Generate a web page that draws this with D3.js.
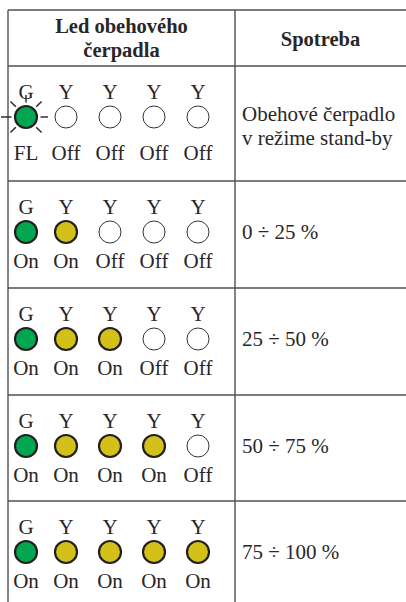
<!DOCTYPE html>
<html><head><meta charset="utf-8">
<script src="https://cdn.jsdelivr.net/npm/d3@7"></script>
<style>html,body{margin:0;padding:0;background:#fff;}svg{display:block;}</style>
</head><body>
<svg id="c" width="406" height="602"></svg>
<script>
// ---- data ----
const headerLeft = ["Led obehového", "čerpadla"];
const headerRight = "Spotreba";
const ledNames = ["G", "Y", "Y", "Y", "Y"];
const ledColors = ["green", "yellow", "yellow", "yellow", "yellow"];
// states per row: "FL" flashing, "On", "Off"
const rowStates = [
  ["FL", "Off", "Off", "Off", "Off"],
  ["On", "On", "Off", "Off", "Off"],
  ["On", "On", "On", "Off", "Off"],
  ["On", "On", "On", "On", "Off"],
  ["On", "On", "On", "On", "On"]
];
const consumption = [
  ["Obehové čerpadlo", "v režime stand-by"],
  ["0 ÷ 25 %"],
  ["25 ÷ 50 %"],
  ["50 ÷ 75 %"],
  ["75 ÷ 100 %"]
];

// ---- layout ----
const svg = d3.select("#c");
const W = 406, H = 602;
const xL = 8, xM = 235, yTop = 10, yHead = 66;
const rowH = [115, 107, 107, 106, 110];
const rowTops = [];
let acc = yHead;
rowH.forEach(h => { rowTops.push(acc); acc += h; });
const y = d3.scaleOrdinal().domain(d3.range(rowStates.length)).range(rowTops);
const x = d3.scaleOrdinal().domain(d3.range(ledNames.length)).range([26, 66, 110, 154, 198]);
const fillMap = {green: "#00a650", yellow: "#d3c119"};
const lineC = "#505050";
const serif = "'Liberation Serif', 'DejaVu Serif', serif";
const txtC = "#2a2627";

// grid lines
const hl = [yTop, yHead].concat(rowTops.slice(1));
svg.selectAll("line.h").data(hl).join("line")
  .attr("x1", xL).attr("x2", W).attr("y1", d => d).attr("y2", d => d)
  .attr("stroke", lineC).attr("stroke-width", 1.4);
svg.selectAll("line.v").data([xL, xM]).join("line")
  .attr("x1", d => d).attr("x2", d => d).attr("y1", yTop).attr("y2", H)
  .attr("stroke", lineC).attr("stroke-width", 1.4);

// header
svg.append("text").attr("x", (xL + xM) / 2).attr("text-anchor", "middle")
  .attr("font-family", serif).attr("font-weight", "bold").attr("font-size", 20.5)
  .attr("fill", txtC)
  .selectAll("tspan").data(headerLeft).join("tspan")
  .attr("x", (xL + xM) / 2).attr("y", (d, i) => 33 + i * 24).text(d => d);
svg.append("text").attr("x", (xM + W) / 2).attr("y", 46).attr("text-anchor", "middle")
  .attr("font-family", serif).attr("font-weight", "bold").attr("font-size", 20.5)
  .attr("fill", txtC).text(headerRight);

// rows
const rows = svg.selectAll("g.row").data(rowStates).join("g")
  .attr("transform", (d, i) => `translate(0,${y(i)})`);

rows.each(function(states, ri) {
  const g = d3.select(this);
  const cy = 51;
  const labelY = ri === 0 ? 94 : 87;
  const leds = g.selectAll("g.led").data(states.map((s, i) => ({s, i}))).join("g")
    .attr("transform", d => `translate(${x(d.i)},0)`);
  leds.append("text").attr("y", 33).attr("text-anchor", "middle")
    .attr("font-family", serif).attr("font-size", 21).attr("fill", txtC)
    .text(d => ledNames[d.i]);
  // flash rays
  leds.filter(d => d.s === "FL").each(function() {
    const lg = d3.select(this);
    const angles = [0, 45, 135, 180, 225, 270, 315];
    lg.selectAll("line").data(angles).join("line")
      .attr("x1", a => 14.5 * Math.cos(a * Math.PI / 180))
      .attr("y1", a => cy + 14.5 * Math.sin(a * Math.PI / 180))
      .attr("x2", a => (a === 180 ? 25 : 22) * Math.cos(a * Math.PI / 180))
      .attr("y2", a => cy + (a === 180 ? 25 : 22) * Math.sin(a * Math.PI / 180))
      .attr("stroke", "#222").attr("stroke-width", 1.4);
  });
  leds.append("circle").attr("cy", cy).attr("r", 11)
    .attr("fill", d => d.s === "Off" ? "#fff" : fillMap[ledColors[d.i]])
    .attr("stroke", d => d.s === "Off" ? "#333" : "#231f20")
    .attr("stroke-width", d => d.s === "Off" ? 1 : 2.2);
  leds.append("text").attr("y", labelY).attr("text-anchor", "middle")
    .attr("font-family", serif).attr("font-size", 21).attr("fill", txtC)
    .text(d => d.s);
  // consumption text
  const lines = consumption[ri];
  const t = g.append("text").attr("font-family", serif).attr("font-size", 21).attr("fill", txtC);
  const baseY = lines.length === 1 ? cy + 7 : 55;
  t.selectAll("tspan").data(lines).join("tspan")
    .attr("x", 242).attr("y", (d, i) => baseY + i * 24).text(d => d);
});
</script>
</body></html>
